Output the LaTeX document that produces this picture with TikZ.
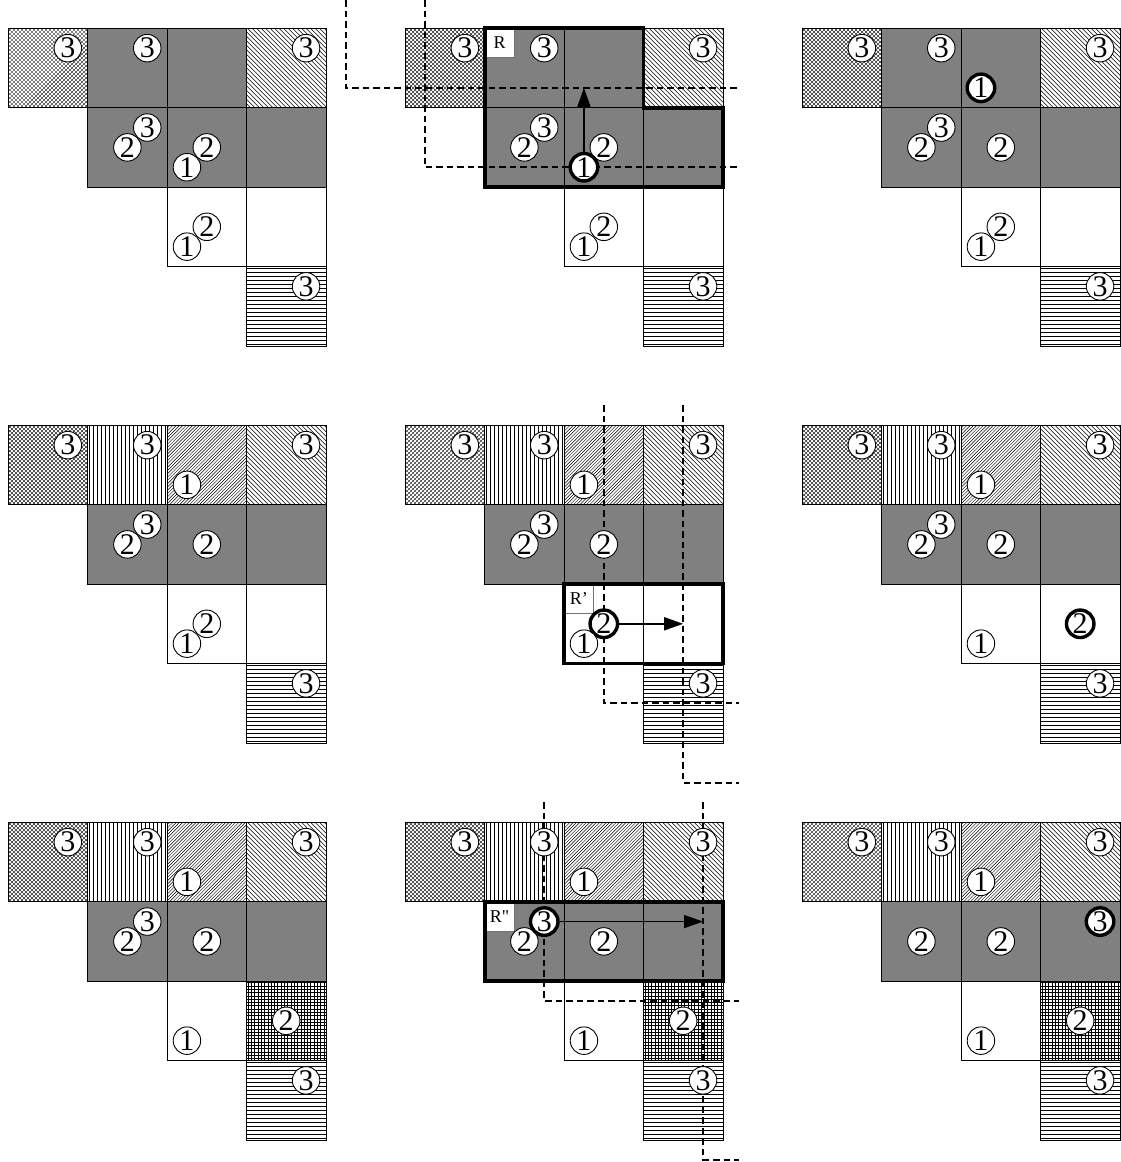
\documentclass[tikz,border=0pt]{standalone}
\usepackage{fontspec}
\setmainfont{Liberation Serif}
\newfontfamily\rawserif[Ligatures=TeXOff]{Liberation Serif}
\usetikzlibrary{arrows.meta}

\def\cs{79.4}
% hatch drawers (cell-local coordinates, y downwards)
\newcommand\hatchgr{\fill[black!50] (0,0) rectangle (\cs,\cs);}
\newcommand\hatchwh{\fill[white] (0,0) rectangle (\cs,\cs);}
\newcommand\hatchvl{\foreach \t in {2,6,...,78}{\draw[line width=0.9pt] (\t,0) -- (\t,\cs);}}
\newcommand\hatchhl{\foreach \t in {2,6,...,78}{\draw[line width=0.9pt] (0,\t) -- (\cs,\t);}}
\newcommand\hatchgrd{\foreach \t in {1.6,4.9,...,79}{\draw[line width=0.75pt] (\t,0) -- (\t,\cs) (0,\t) -- (\cs,\t);}}
\newcommand\hatchnel{\foreach \t in {-80,-76.7,...,82}{\draw[line width=0.45pt] (\t,\cs) -- ++(80,-80);}}
\newcommand\hatchnwl{\foreach \t in {-80,-75.5,...,82}{\draw[line width=0.5pt] (\t,0) -- ++(80,80);}}
\newcommand\hatchxh{\foreach \t in {-80,-76,...,82}{\draw[line width=0.35pt] (\t,\cs) -- ++(80,-80) (\t,0) -- ++(80,80);}}
\newcommand\cel[3]{\begin{scope}[shift={({#2*\cs},{#1*\cs})}]\clip (0,0) rectangle (\cs,\cs);\csname hatch#3\endcsname\end{scope}}
\newcommand\celb[2]{\draw[cellline] ({#2*\cs},{#1*\cs}) rectangle ++(\cs,\cs);}
\newcommand\panelcells[3]{%
 \cel{0}{0}{xh}\cel{0}{1}{#1}\cel{0}{2}{#2}\cel{0}{3}{nwl}%
 \cel{1}{1}{gr}\cel{1}{2}{gr}\cel{1}{3}{gr}%
 \cel{2}{2}{wh}\cel{2}{3}{#3}\cel{3}{3}{hl}%
 \celb{0}{0}\celb{0}{1}\celb{0}{2}\celb{0}{3}\celb{1}{1}\celb{1}{2}\celb{1}{3}\celb{2}{2}\celb{2}{3}\celb{3}{3}}
\newcommand\cnum[5]{\node[#1] (#2) at ({(#4+0.25*#5)*\cs},{(#3+1-0.25*#5)*\cs}) {#5};}

\tikzset{
 cellline/.style={draw=black,line width=0.8pt},
 num/.style={circle,draw=black,fill=white,line width=0.9pt,minimum size=27.5pt,inner sep=0pt,font=\fontsize{30}{30}\selectfont},
 numt/.style={num,line width=3.4pt},
 rbox/.style={draw=black!55,fill=white,line width=0.6pt,minimum size=29pt,inner sep=0pt,anchor=north west,font=\fontsize{18}{18}\selectfont},
 reg/.style={draw=black,line width=3.8pt,line join=miter},
 dsh/.style={draw=black,line width=2.2pt,dash pattern=on 6.5pt off 4pt},
 arr/.style={draw=black,line width=1.6pt,-{Triangle[length=19pt,width=13pt]}}
}

\begin{document}
\begin{tikzpicture}[x=1pt,y=-1pt]
\useasboundingbox (0,0) rectangle (1120,1162);
\fill[white] (0,0) rectangle (1120,1162);

% ---------- Panel A ----------
\begin{scope}[shift={(8.3,28.3)}]
\panelcells{gr}{gr}{wh}
\cnum{num}{a1}{0}{0}{3}\cnum{num}{a2}{0}{1}{3}\cnum{num}{a3}{0}{3}{3}
\cnum{num}{a4}{1}{1}{3}\cnum{num}{a5}{1}{1}{2}
\cnum{num}{a6}{1}{2}{2}\cnum{num}{a7}{1}{2}{1}
\cnum{num}{a8}{2}{2}{2}\cnum{num}{a9}{2}{2}{1}
\cnum{num}{a10}{3}{3}{3}
\end{scope}

% ---------- Panel B ----------
\begin{scope}[shift={(405.3,28.3)}]
\panelcells{gr}{gr}{wh}
\node[rbox] (bR) at (\cs,0) {R};
\draw[reg] (\cs,0) -- ({3*\cs},0) -- ({3*\cs},\cs) -- ({4*\cs},\cs) -- ({4*\cs},{2*\cs}) -- (\cs,{2*\cs}) -- cycle;
\coordinate (bd1s) at ({-0.75*\cs},-28.3);
\coordinate (bd1c) at ({-0.75*\cs},{0.75*\cs});
\coordinate (bd1e) at ({4*\cs+16},{0.75*\cs});
\coordinate (bd2s) at ({0.25*\cs},-28.3);
\coordinate (bd2c) at ({0.25*\cs},{1.75*\cs});
\coordinate (bd2e) at ({4*\cs+16},{1.75*\cs});
\draw[dsh] (bd1s) -- (bd1c) -- (bd1e);
\draw[dsh] (bd2s) -- (bd2c) -- (bd2e);
\cnum{num}{b1}{0}{0}{3}\cnum{num}{b2}{0}{1}{3}\cnum{num}{b3}{0}{3}{3}
\cnum{num}{b4}{1}{1}{3}\cnum{num}{b5}{1}{1}{2}
\cnum{num}{b6}{1}{2}{2}\cnum{numt}{b7}{1}{2}{1}
\cnum{num}{b8}{2}{2}{2}\cnum{num}{b9}{2}{2}{1}
\cnum{num}{b10}{3}{3}{3}
\coordinate (bt) at ({2.25*\cs},{0.75*\cs});
\draw[arr] (b7) -- (bt);
\end{scope}

% ---------- Panel C ----------
\begin{scope}[shift={(802.3,28.3)}]
\panelcells{gr}{gr}{wh}
\cnum{num}{c1}{0}{0}{3}\cnum{num}{c2}{0}{1}{3}\cnum{numt}{c3}{0}{2}{1}\cnum{num}{c4}{0}{3}{3}
\cnum{num}{c5}{1}{1}{3}\cnum{num}{c6}{1}{1}{2}
\cnum{num}{c7}{1}{2}{2}
\cnum{num}{c8}{2}{2}{2}\cnum{num}{c9}{2}{2}{1}
\cnum{num}{c10}{3}{3}{3}
\end{scope}

% ---------- Panel D ----------
\begin{scope}[shift={(8.3,425.3)}]
\panelcells{vl}{nel}{wh}
\cnum{num}{d1}{0}{0}{3}\cnum{num}{d2}{0}{1}{3}\cnum{num}{d3}{0}{2}{1}\cnum{num}{d4}{0}{3}{3}
\cnum{num}{d5}{1}{1}{3}\cnum{num}{d6}{1}{1}{2}
\cnum{num}{d7}{1}{2}{2}
\cnum{num}{d8}{2}{2}{2}\cnum{num}{d9}{2}{2}{1}
\cnum{num}{d10}{3}{3}{3}
\end{scope}

% ---------- Panel E ----------
\begin{scope}[shift={(405.3,425.3)}]
\panelcells{vl}{nel}{wh}
\node[rbox] (eR) at ({2*\cs},{2*\cs}) {R’};
\draw[reg] ({2*\cs},{2*\cs}) rectangle ({4*\cs},{3*\cs});
\coordinate (ed1s) at ({2.5*\cs},-20);
\coordinate (ed1c) at ({2.5*\cs},{3.5*\cs});
\coordinate (ed1e) at ({4*\cs+16},{3.5*\cs});
\coordinate (ed2s) at ({3.5*\cs},-20);
\coordinate (ed2c) at ({3.5*\cs},{4.5*\cs});
\coordinate (ed2e) at ({4*\cs+16},{4.5*\cs});
\draw[dsh] (ed1s) -- (ed1c) -- (ed1e);
\draw[dsh] (ed2s) -- (ed2c) -- (ed2e);
\cnum{num}{e1}{0}{0}{3}\cnum{num}{e2}{0}{1}{3}\cnum{num}{e3}{0}{2}{1}\cnum{num}{e4}{0}{3}{3}
\cnum{num}{e5}{1}{1}{3}\cnum{num}{e6}{1}{1}{2}
\cnum{num}{e7}{1}{2}{2}
\cnum{numt}{e8}{2}{2}{2}\cnum{num}{e9}{2}{2}{1}
\cnum{num}{e10}{3}{3}{3}
\coordinate (et) at ({3.5*\cs},{2.5*\cs});
\draw[arr] (e8) -- (et);
\end{scope}

% ---------- Panel F ----------
\begin{scope}[shift={(802.3,425.3)}]
\panelcells{vl}{nel}{wh}
\cnum{num}{f1}{0}{0}{3}\cnum{num}{f2}{0}{1}{3}\cnum{num}{f3}{0}{2}{1}\cnum{num}{f4}{0}{3}{3}
\cnum{num}{f5}{1}{1}{3}\cnum{num}{f6}{1}{1}{2}
\cnum{num}{f7}{1}{2}{2}
\cnum{num}{f8}{2}{2}{1}\cnum{numt}{f9}{2}{3}{2}
\cnum{num}{f10}{3}{3}{3}
\end{scope}

% ---------- Panel G ----------
\begin{scope}[shift={(8.3,822.3)}]
\panelcells{vl}{nel}{grd}
\cnum{num}{g1}{0}{0}{3}\cnum{num}{g2}{0}{1}{3}\cnum{num}{g3}{0}{2}{1}\cnum{num}{g4}{0}{3}{3}
\cnum{num}{g5}{1}{1}{3}\cnum{num}{g6}{1}{1}{2}
\cnum{num}{g7}{1}{2}{2}
\cnum{num}{g8}{2}{2}{1}\cnum{num}{g9}{2}{3}{2}
\cnum{num}{g10}{3}{3}{3}
\end{scope}

% ---------- Panel H ----------
\begin{scope}[shift={(405.3,822.3)}]
\panelcells{vl}{nel}{grd}
\node[rbox,font=\fontsize{18}{18}\rawserif] (hR) at (\cs,\cs) {R"};
\draw[reg] (\cs,\cs) rectangle ({4*\cs},{2*\cs});
\coordinate (hd1s) at ({1.75*\cs},-20);
\coordinate (hd1c) at ({1.75*\cs},{2.25*\cs});
\coordinate (hd1e) at ({4*\cs+16},{2.25*\cs});
\coordinate (hd2s) at ({3.75*\cs},-20);
\coordinate (hd2c) at ({3.75*\cs},{4.25*\cs});
\coordinate (hd2e) at ({4*\cs+16},{4.25*\cs});
\draw[dsh] (hd1s) -- (hd1c) -- (hd1e);
\draw[dsh] (hd2s) -- (hd2c) -- (hd2e);
\cnum{num}{h1}{0}{0}{3}\cnum{num}{h2}{0}{1}{3}\cnum{num}{h3}{0}{2}{1}\cnum{num}{h4}{0}{3}{3}
\cnum{num}{h6}{1}{1}{2}\cnum{numt}{h5}{1}{1}{3}
\cnum{num}{h7}{1}{2}{2}
\cnum{num}{h8}{2}{2}{1}\cnum{num}{h9}{2}{3}{2}
\cnum{num}{h10}{3}{3}{3}
\coordinate (ht) at ({3.75*\cs},{1.25*\cs});
\draw[arr] (h5) -- (ht);
\end{scope}

% ---------- Panel I ----------
\begin{scope}[shift={(802.3,822.3)}]
\panelcells{vl}{nel}{grd}
\cnum{num}{i1}{0}{0}{3}\cnum{num}{i2}{0}{1}{3}\cnum{num}{i3}{0}{2}{1}\cnum{num}{i4}{0}{3}{3}
\cnum{num}{i5}{1}{1}{2}\cnum{num}{i6}{1}{2}{2}\cnum{numt}{i7}{1}{3}{3}
\cnum{num}{i8}{2}{2}{1}\cnum{num}{i9}{2}{3}{2}
\cnum{num}{i10}{3}{3}{3}
\end{scope}
\end{tikzpicture}
\end{document}
